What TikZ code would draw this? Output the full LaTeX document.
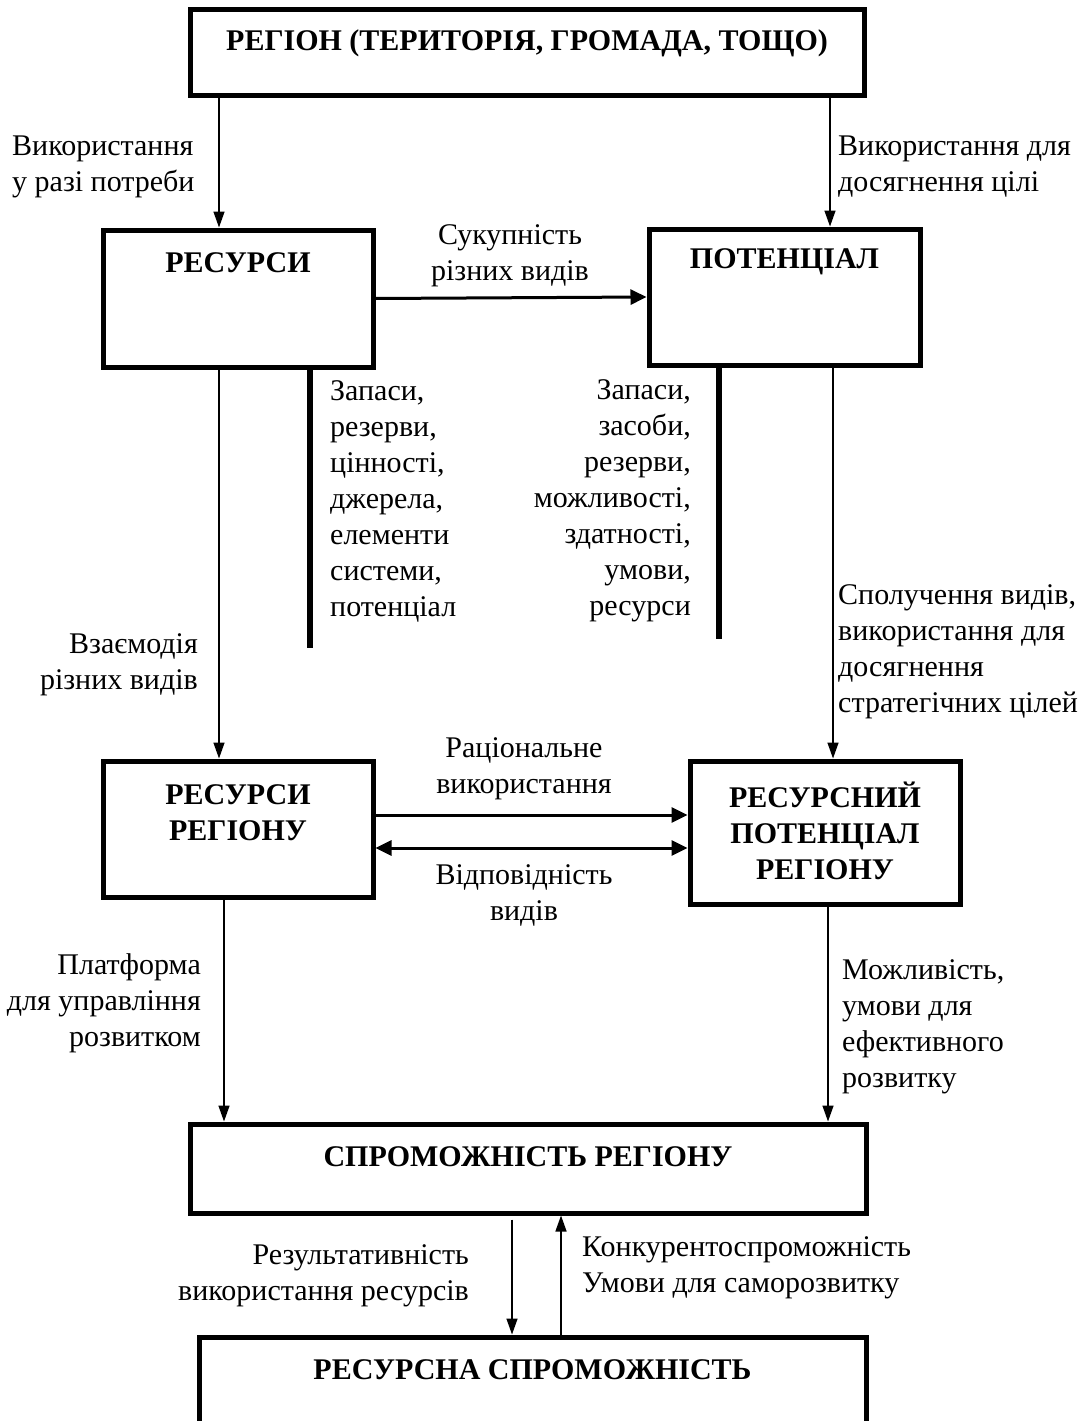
\documentclass[tikz,border=0pt]{standalone}
\usepackage{fontspec}
\setmainfont{Liberation Serif}
\usetikzlibrary{arrows.meta,positioning}

\tikzset{
  box/.style={draw, line width=5pt, inner sep=0pt},
  head/.style={font=\bfseries, align=center, inner sep=0pt},
  txt/.style={align=left, inner sep=0pt},
  txtr/.style={align=right, inner sep=0pt},
  txtc/.style={align=center, inner sep=0pt},
  arr/.style={line width=1.5pt, -{Triangle[length=16pt,width=11pt]}},
  harr/.style={line width=3pt, -{Triangle[length=16pt,width=15pt]}},
  bar/.style={line width=6pt},
}

\begin{document}
\begin{tikzpicture}[x=1pt,y=1pt,yscale=-1,xscale=1]
\fontsize{30}{36}\selectfont
\useasboundingbox (0,0) rectangle (1082,1421);

% Boxes
\node[box, minimum width=674pt, minimum height=85pt] (region) at (527,52.5) {};
\node[head] (regionT) at (527,43) {РЕГІОН (ТЕРИТОРІЯ, ГРОМАДА, ТОЩО)};

\node[box, minimum width=270pt, minimum height=137pt] (res) at (238,298.5) {};
\node[head] (resT) at (238,263) {РЕСУРСИ};

\node[box, minimum width=271pt, minimum height=136pt] (pot) at (784.5,297) {};
\node[head] (potT) at (784.5,262) {ПОТЕНЦІАЛ};

\node[box, minimum width=270pt, minimum height=136pt] (resreg) at (238,829) {};
\node[head] (resregT) at (238,812.5) {РЕСУРСИ\\РЕГІОНУ};

\node[box, minimum width=270pt, minimum height=143pt] (respot) at (825,832.5) {};
\node[head] (respotT) at (825,831) {РЕСУРСНИЙ\\ПОТЕНЦІАЛ\\РЕГІОНУ};

\node[box, minimum width=676pt, minimum height=89pt] (spro) at (528,1168.5) {};
\node[head] (sproT) at (528,1157) {СПРОМОЖНІСТЬ РЕГІОНУ};

\node[box, minimum width=667pt, minimum height=160pt] (rspro) at (532.5,1417) {};
\node[head] (rsproT) at (532.5,1370) {РЕСУРСНА СПРОМОЖНІСТЬ};

%Straight Lines
\draw[arr] ([xshift=-19]res.north |- region.south) -- ([xshift=-19]res.north);
\draw[arr] ([xshift=45.5]pot.north |- region.south) -- ([xshift=45.5]pot.north);
\draw[harr] (res.east) -- (pot.west);
\draw[arr] ([xshift=-19]res.south) -- ([xshift=-19]res.south |- resreg.north);
\draw[arr] ([xshift=48.5]pot.south) -- ([xshift=48.5]pot.south |- respot.north);
\draw[harr] ([yshift=-14]resreg.east) -- ([yshift=-14]resreg.east -| respot.west);
\draw[harr, {Triangle[length=16pt,width=15pt]}-{Triangle[length=16pt,width=15pt]}] ([yshift=19]resreg.east) -- ([yshift=19]resreg.east -| respot.west);
\draw[arr] ([xshift=-14]resreg.south) -- ([xshift=-14]resreg.south |- spro.north);
\draw[arr] ([xshift=3]respot.south) -- ([xshift=3]respot.south |- spro.north);
\draw[arr] ([xshift=-16,yshift=4]spro.south) -- ([xshift=-16]spro.south |- rspro.north);
\draw[arr] ([xshift=28.5]rspro.north) -- ([xshift=28.5]rspro.north |- spro.south);

% Bars
\draw[bar] ([xshift=72]res.south) -- ++(0,278);
\draw[bar] ([xshift=-65.5]pot.south) -- ++(0,271);

% Text Node
\node[txt, anchor=west] (useNeed) at (12,166.5) {Використання\\у разі потреби};
\node[txt, anchor=west] (useGoal) at (838,166.5) {Використання для\\досягнення цілі};
\node[txtc] (sum) at (510,255.5) {Сукупність\\різних видів};
\node[txt, anchor=west] (resList) at (330,501) {Запаси,\\резерви,\\цінності,\\джерела,\\елементи\\системи,\\потенціал};
\node[txtr, anchor=east] (potList) at (691,501) {Запаси,\\засоби,\\резерви,\\можливості,\\здатності,\\умови,\\ресурси};
\node[txtr, anchor=east] (inter) at (198,665) {Взаємодія\\різних видів};
\node[txt, anchor=west] (comb) at (838,651.5) {Сполучення видів,\\використання для\\досягнення\\стратегічних цілей};
\node[txtc] (ratio) at (524,769) {Раціональне\\використання};
\node[txtc] (match) at (524,895) {Відповідність\\видів};
\node[txtr, anchor=east] (platf) at (201,1003.5) {Платформа\\для управління\\розвитком};
\node[txt, anchor=west] (poss) at (842,1026.5) {Можливість,\\умови для\\ефективного\\розвитку};
\node[txtr, anchor=east] (effect) at (469,1275.5) {Результативність\\використання ресурсів};
\node[txt, anchor=west] (compet) at (582,1267.5) {Конкурентоспроможність\\Умови для саморозвитку};

\end{tikzpicture}
\end{document}
